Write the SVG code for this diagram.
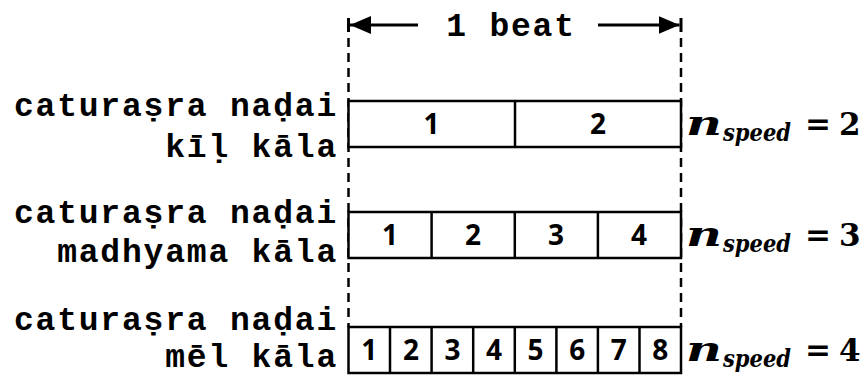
<svg xmlns="http://www.w3.org/2000/svg" width="860" height="381" viewBox="0 0 860 381">
  <style>
    .lbl { font-family: "Liberation Mono", "Courier New", "DejaVu Sans Mono", monospace; font-weight: bold; font-size: 33px; letter-spacing: 1.8px; fill: #000; }
    .cell { fill: #fff; stroke: #000; stroke-width: 2.5; }
    .div { stroke: #000; stroke-width: 2.5; }
    .num { font-family: "Open Sans", Lato, "Liberation Sans", sans-serif; font-weight: bold; font-size: 28px; text-anchor: middle; fill: #000; }
    .var { font-family: "DejaVu Serif", "Liberation Serif", serif; font-weight: bold; font-style: italic; fill: #000; }
    .eq { font-family: "DejaVu Serif", "Liberation Serif", serif; font-weight: bold; font-size: 31px; fill: #000; }
    .guide { stroke: #000; stroke-width: 2.5; stroke-dasharray: 9 6; fill: none; }
    .arrow { stroke: #000; stroke-width: 3; fill: none; }
  </style>
  <defs>
    <marker id="head" viewBox="0 0 10 10" refX="10" refY="5" markerWidth="7" markerHeight="6" markerUnits="strokeWidth" orient="auto-start-reverse" preserveAspectRatio="none">
      <path d="M0,0 L10,5 L0,10 Z" fill="#000"/>
    </marker>
  </defs>

  <!-- beat span: dashed guides and the double arrow -->
  <g id="connectors">
    <line class="guide" x1="348.5" y1="38" x2="348.5" y2="327"/>
    <line class="guide" x1="681" y1="38" x2="681" y2="327"/>
    <line class="arrow" x1="348.5" y1="18" x2="348.5" y2="32"/>
    <line class="arrow" x1="681" y1="18" x2="681" y2="32"/>
    <line class="arrow" x1="418" y1="25" x2="350" y2="25" marker-end="url(#head)"/>
    <line class="arrow" x1="598" y1="25" x2="679.5" y2="25" marker-end="url(#head)"/>
    <text class="lbl" x="511" y="36" text-anchor="middle">1 beat</text>
  </g>

  <!-- kīḷ kāla: 2 pulses -->
  <g id="row-kil">
    <text class="lbl" x="338" y="116" text-anchor="end">caturaṣra naḍai</text>
    <text class="lbl" x="338" y="157" text-anchor="end">kīḷ kāla</text>
    <rect class="cell" x="348.5" y="101" width="332.5" height="46"/>
    <line class="div" x1="515" y1="101" x2="515" y2="147"/>
    <text class="num" x="431.5" y="134">1</text>
    <text class="num" x="598" y="134">2</text>
    <text class="var" x="686" y="135" font-size="34" textLength="36" lengthAdjust="spacingAndGlyphs">n</text>
    <text class="var" x="723" y="141" font-size="25" textLength="68" lengthAdjust="spacingAndGlyphs">speed</text>
    <text class="eq" x="805" y="135">=</text>
    <text class="eq" x="839" y="135">2</text>
  </g>

  <!-- madhyama kāla: 4 pulses -->
  <g id="row-madhyama">
    <text class="lbl" x="338" y="223" text-anchor="end">caturaṣra naḍai</text>
    <text class="lbl" x="338" y="262" text-anchor="end">madhyama kāla</text>
    <rect class="cell" x="348.5" y="212" width="332.5" height="46"/>
    <line class="div" x1="431.6" y1="212" x2="431.6" y2="258"/>
    <line class="div" x1="514.8" y1="212" x2="514.8" y2="258"/>
    <line class="div" x1="597.9" y1="212" x2="597.9" y2="258"/>
    <text class="num" x="390" y="245">1</text>
    <text class="num" x="473" y="245">2</text>
    <text class="num" x="556" y="245">3</text>
    <text class="num" x="639" y="245">4</text>
    <text class="var" x="686" y="246" font-size="34" textLength="36" lengthAdjust="spacingAndGlyphs">n</text>
    <text class="var" x="723" y="252" font-size="25" textLength="68" lengthAdjust="spacingAndGlyphs">speed</text>
    <text class="eq" x="805" y="246">=</text>
    <text class="eq" x="839" y="246">3</text>
  </g>

  <!-- mēl kāla: 8 pulses -->
  <g id="row-mel">
    <text class="lbl" x="338" y="330" text-anchor="end">caturaṣra naḍai</text>
    <text class="lbl" x="338" y="367" text-anchor="end">mēl kāla</text>
    <rect class="cell" x="348.5" y="327" width="332.5" height="46"/>
    <line class="div" x1="390" y1="327" x2="390" y2="373"/>
    <line class="div" x1="431.6" y1="327" x2="431.6" y2="373"/>
    <line class="div" x1="473.2" y1="327" x2="473.2" y2="373"/>
    <line class="div" x1="514.8" y1="327" x2="514.8" y2="373"/>
    <line class="div" x1="556.4" y1="327" x2="556.4" y2="373"/>
    <line class="div" x1="597.9" y1="327" x2="597.9" y2="373"/>
    <line class="div" x1="639.5" y1="327" x2="639.5" y2="373"/>
    <text class="num" x="369.3" y="360">1</text>
    <text class="num" x="410.9" y="360">2</text>
    <text class="num" x="452.4" y="360">3</text>
    <text class="num" x="494" y="360">4</text>
    <text class="num" x="535.6" y="360">5</text>
    <text class="num" x="577.2" y="360">6</text>
    <text class="num" x="618.7" y="360">7</text>
    <text class="num" x="660.3" y="360">8</text>
    <text class="var" x="686" y="361" font-size="34" textLength="36" lengthAdjust="spacingAndGlyphs">n</text>
    <text class="var" x="723" y="367" font-size="25" textLength="68" lengthAdjust="spacingAndGlyphs">speed</text>
    <text class="eq" x="805" y="361">=</text>
    <text class="eq" x="839" y="361">4</text>
  </g>
</svg>
